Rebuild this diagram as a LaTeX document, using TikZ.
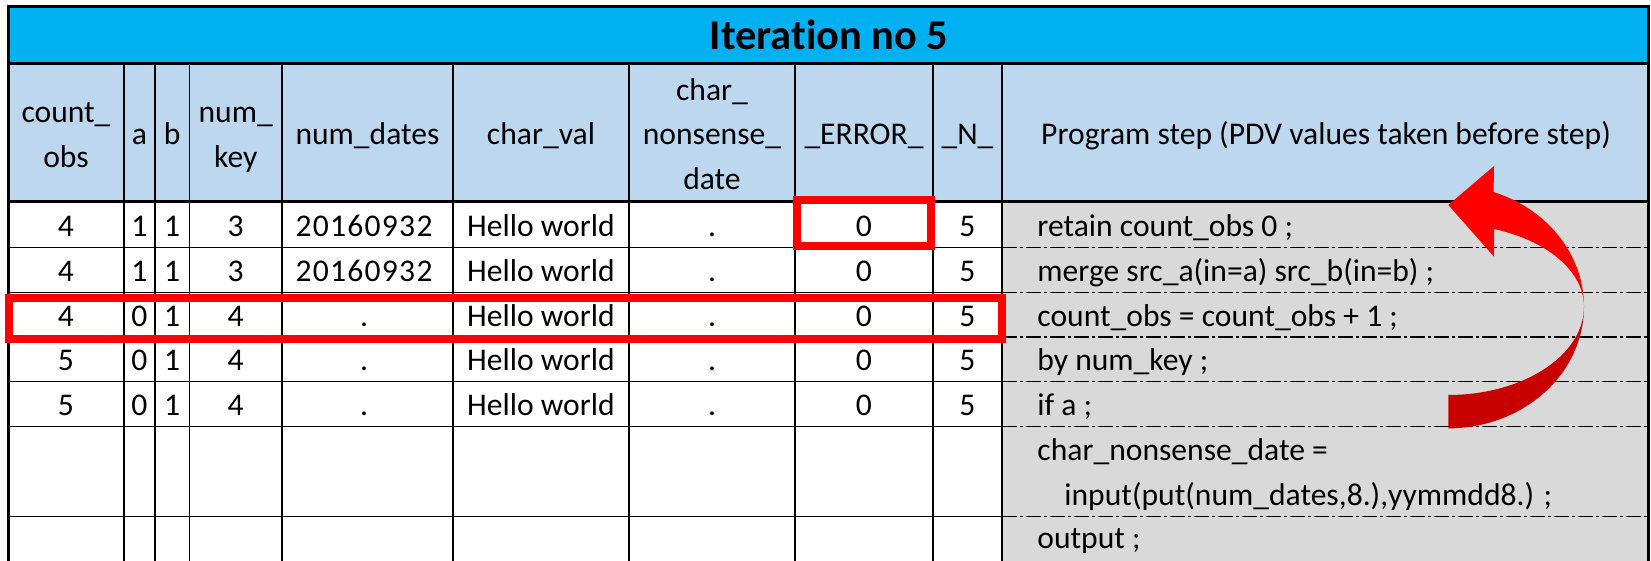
\documentclass[tikz,border=0pt]{standalone}
\usepackage{fontspec}
\setmainfont{Carlito}[Ligatures={NoCommon}]
\newfontfamily\widedigits{Carlito}[LetterSpace=4]
\definecolor{titlebg}{HTML}{00B0F0}
\definecolor{headbg}{HTML}{BDD7EE}
\definecolor{stepbg}{HTML}{D9D9D9}
\definecolor{hired}{HTML}{FF0000}
\definecolor{darkred}{HTML}{C80000}
\begin{document}
\begin{tikzpicture}[x=0.5pt,y=-0.5pt,
  txt/.style={anchor=base,inner sep=0pt,font=\fontsize{15.8}{19}\selectfont},
  steptxt/.style={anchor=base west,inner sep=0pt,font=\fontsize{15.8}{19}\selectfont},
  gridline/.style={line width=0.6pt,black},
  midline/.style={line width=1.15pt,black},
  thickline/.style={line width=1.5pt,black},
  dashline/.style={line width=0.75pt,black,dash pattern=on 7.5pt off 1.5pt on 1.5pt off 1.5pt},
  redbox/.style={draw=hired,line width=4pt}]
\useasboundingbox (0,0) rectangle (1651,561);
\fill[white] (0,0) rectangle (1651,561);
% fills
\fill[titlebg] (8,7) rectangle (1648,64);
\fill[headbg] (8,64) rectangle (1648,202);
\fill[stepbg] (1002,202) rectangle (1648,561);
% grid lines
\foreach \x in {124,155,189.5,282,453,629,795,933}
  \draw[gridline] (\x,64) -- (\x,561);
\foreach \y in {247.5,292.3,337,381.7,426.7,516.7}{
  \draw[gridline] (8,\y) -- (1002,\y);
  \draw[dashline] (1002,\y) -- (1648,\y);
}
\draw[midline] (1002,64) -- (1002,561);
\draw[thickline] (8,561) -- (8,7) -- (1648,7) -- (1648,561);
\draw[thickline] (8,64) -- (1648,64);
\draw[thickline] (8,202) -- (1648,202);
% title
\node[anchor=base,inner sep=0pt,font=\fontsize{21.2}{25}\bfseries\selectfont] (title) at (829,50) {Iteration no 5};
% header
\node[txt] (h1a) at (66,123) {count\_};
\node[txt] (h1b) at (66,167.5) {obs};
\node[txt] (h2) at (139.5,145) {a};
\node[txt] (h3) at (172.25,145) {b};
\node[txt] (h4a) at (235.75,123) {num\_};
\node[txt] (h4b) at (235.75,167.5) {key};
\node[txt] (h5) at (367.5,145) {num\_dates};
\node[txt] (h6) at (541,145) {char\_val};
\node[txt] (h7a) at (712,100.5) {char\_};
\node[txt] (h7b) at (712,145) {nonsense\_};
\node[txt] (h7c) at (712,189.5) {date};
\node[txt] (h8) at (864,145) {\_ERROR\_};
\node[txt] (h9) at (967.5,145) {\_N\_};
\node[txt] (h10) at (1326,145) {Program step (PDV values taken before step)};
% data
\foreach \r/\y/\ca/\cb/\cc/\cd/\ce in {1/237/4/1/1/3/20160932, 2/281.5/4/1/1/3/20160932, 3/326.5/4/0/1/4/., 4/371/5/0/1/4/., 5/415.5/5/0/1/4/.}{
  \node[txt] (d\r-1) at (66,\y) {\ca};
  \node[txt] (d\r-2) at (139.5,\y) {\cb};
  \node[txt] (d\r-3) at (172.25,\y) {\cc};
  \node[txt] (d\r-4) at (235.75,\y) {\cd};
  \node[txt] (d\r-5) at (364,\y) {\widedigits\ce};
  \node[txt] (d\r-6) at (541,\y) {Hello world};
  \node[txt] (d\r-7) at (712,\y) {.};
  \node[txt] (d\r-8) at (864,\y) {0};
  \node[txt] (d\r-9) at (967.5,\y) {5};
}
% program steps
\node[steptxt] (s1) at (1037,237) {retain count\_obs 0 ;};
\node[steptxt] (s2) at (1037,281.5) {merge src\_a(in=a) src\_b(in=b) ;};
\node[steptxt] (s3) at (1037,326.5) {count\_obs = count\_obs + 1 ;};
\node[steptxt] (s4) at (1037,371) {by num\_key ;};
\node[steptxt] (s5) at (1037,415.5) {if a ;};
\node[steptxt] (s6a) at (1037,460) {char\_nonsense\_date =};
\node[steptxt] (s6b) at (1064,505) {input(put(num\_dates,8.),yymmdd8.) ;};
\node[steptxt] (s7) at (1037,548) {output ;};
% red boxes
\draw[redbox] (797,200) rectangle (931,246);
\draw[redbox] (9.3,298) rectangle (1002,339);
% curved arrow
\fill[darkred] plot[domain=0:90,samples=40,variable=\t] ({1448.3+135.7*cos(\t)},{306.7+121.7*sin(\t)})
  -- plot[domain=90:0,samples=40,variable=\t] ({1448.3+135.7*cos(\t)},{306.7+88.3*sin(\t)}) -- cycle;
\fill[hired] plot[domain=-70.5:0,samples=40,variable=\t] ({1448.3+135.7*cos(\t)},{306.7+121.7*sin(\t)})
  -- plot[domain=0:-70.3,samples=40,variable=\t] ({1448.3+135.7*cos(\t)},{306.7+82.5*sin(\t)})
  -- (1494,256.7) -- (1448.3,205) -- (1494,166) -- cycle;
\end{tikzpicture}
\end{document}
